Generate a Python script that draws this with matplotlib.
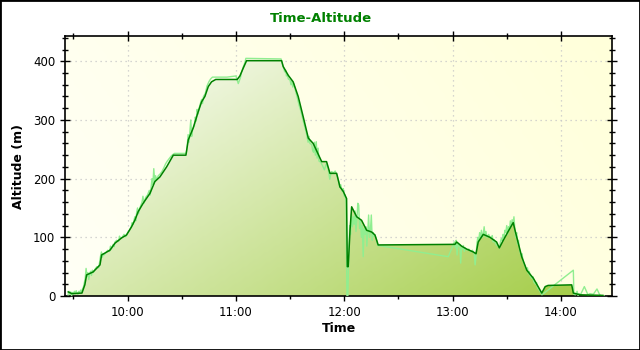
import numpy as np
import pandas as pd
import matplotlib
matplotlib.use('Agg')
from matplotlib import pyplot as plt
import matplotlib.dates as mdates
from matplotlib.colors import LinearSegmentedColormap
from matplotlib.patches import Rectangle

# smoothed track (minutes after midnight, altitude in m)
smooth_min = [567.1, 569.1, 574.7, 576.3, 577.3, 580.9, 584.7, 585.6, 590.2, 593.0,
              596.7, 599.4, 602.2, 604.0, 605.9, 608.6, 612.4, 615.1, 617.9, 621.6,
              625.3, 632.3, 633.6, 636.3, 639.1, 641.0, 642.8, 644.7, 646.5, 648.8,
              660.7, 662.2, 664.0, 665.9, 685.3, 686.2, 689.0, 691.7, 694.5, 697.3,
              700.1, 702.8, 707.5, 710.2, 712.1, 715.8, 717.6, 719.5, 721.3, 721.7,
              722.2, 723.2, 724.1, 726.9, 729.6, 732.4, 735.2, 737.0, 738.8, 781.3,
              782.3, 785.0, 787.8, 791.5, 793.0, 794.2, 797.0, 800.7, 804.4, 805.9,
              808.1, 810.8, 813.6, 814.6, 816.4, 818.3, 821.1, 824.8, 828.5, 829.4,
              831.3, 832.9, 846.0, 846.9, 850.6, 863.3]
smooth_alt = [7, 4, 5, 19, 36, 41, 53, 70, 78, 90,
              99, 104, 118, 129, 144, 158, 175, 195, 203, 220,
              240, 240, 266, 286, 314, 331, 340, 357, 365, 369,
              369, 375, 388, 401, 401, 391, 376, 365, 340, 305,
              269, 260, 229, 229, 209, 209, 186, 178, 166, 50,
              50, 112, 152, 135, 129, 112, 109, 104, 87, 88,
              92, 85, 80, 75, 72, 92, 105, 100, 92, 82,
              95, 110, 125, 112, 90, 67, 44, 30, 10, 5,
              16, 18, 19, 5, 2, 1]

# raw GPS altitude samples
raw_min = [567.0, 567.5, 568.0, 568.5, 569.0, 569.5, 570.0, 570.5, 571.0, 571.5,
           572.0, 572.5, 573.0, 573.5, 574.0, 574.5, 575.0, 575.5, 576.0, 576.5,
           577.0, 577.5, 578.0, 578.5, 579.0, 579.5, 580.0, 580.5, 581.0, 582.0,
           583.0, 584.0, 584.5, 585.0, 585.5, 586.0, 586.5, 587.0, 588.0, 589.0,
           590.0, 590.5, 591.0, 592.0, 592.5, 593.0, 594.0, 595.0, 595.5, 596.0,
           597.0, 598.0, 599.0, 600.0, 601.0, 602.0, 602.5, 603.0, 604.0, 604.5,
           605.0, 605.5, 606.0, 607.0, 608.0, 608.5, 609.0, 610.0, 611.0, 612.0,
           612.5, 613.0, 613.5, 614.0, 614.5, 615.0, 615.5, 616.0, 617.0, 618.0,
           619.0, 620.0, 621.0, 622.0, 623.0, 624.0, 625.0, 626.0, 632.5, 633.0,
           633.5, 634.0, 634.5, 635.0, 635.5, 636.0, 637.0, 637.5, 638.0, 638.5,
           639.0, 640.0, 641.0, 641.5, 642.0, 643.0, 644.0, 645.0, 646.0, 647.0,
           648.0, 655.0, 660.0, 661.3, 662.5, 663.0, 664.0, 665.0, 665.5, 685.0,
           685.5, 686.0, 686.5, 687.0, 687.5, 688.0, 688.5, 689.0, 690.0, 690.5,
           691.0, 691.5, 692.0, 693.0, 694.0, 695.0, 696.0, 697.0, 698.0, 699.0,
           699.5, 700.0, 700.5, 701.0, 702.0, 702.5, 703.0, 703.5, 704.0, 704.5,
           705.0, 705.5, 706.0, 707.0, 708.0, 709.0, 710.0, 711.0, 712.0, 712.5,
           713.0, 714.0, 715.0, 716.0, 717.0, 717.5, 718.0, 719.0, 719.5, 720.0,
           720.5, 721.0, 721.5, 722.0, 722.5, 723.0, 723.5, 724.0, 724.5, 725.0,
           725.5, 726.0, 726.5, 727.0, 727.5, 728.0, 728.5, 729.0, 729.5, 730.0,
           730.5, 731.0, 731.5, 732.0, 732.5, 733.0, 733.5, 734.0, 734.5, 735.0,
           735.5, 736.0, 736.5, 737.0, 738.0, 738.5, 739.0, 777.6, 780.4, 781.0,
           781.5, 782.0, 782.5, 783.0, 783.5, 784.0, 784.5, 785.0, 785.5, 786.0,
           786.5, 787.0, 788.0, 789.0, 790.0, 791.0, 792.0, 792.5, 793.0, 793.5,
           794.0, 794.5, 795.0, 795.5, 796.0, 796.5, 797.0, 797.5, 798.0, 798.5,
           799.0, 800.0, 801.0, 802.0, 802.5, 803.0, 804.0, 805.0, 806.0, 806.5,
           807.0, 807.5, 808.0, 808.5, 809.0, 809.5, 810.0, 810.5, 811.0, 811.5,
           812.0, 812.5, 813.0, 813.5, 814.0, 814.5, 815.0, 815.5, 816.0, 816.5,
           817.0, 818.0, 818.5, 819.0, 820.0, 821.0, 821.5, 822.0, 822.5, 823.0,
           824.0, 824.5, 825.0, 826.0, 826.5, 827.0, 828.0, 829.0, 829.5, 846.9,
           847.2, 848.0, 849.0, 849.5, 850.0, 851.0, 853.0, 855.0, 856.0, 858.0,
           860.0, 861.5, 862.0, 863.0, 864.0]
raw_alt = [2, 8, 3, 7, 1, 6, 3, 8, 4, 9,
           5, 3, 8, 6, 10, 7, 12, 15, 22, 30,
           47, 33, 40, 28, 38, 42, 35, 44, 40, 46,
           50, 48, 58, 68, 75, 66, 72, 70, 74, 78,
           76, 85, 80, 88, 84, 92, 95, 93, 102, 98,
           100, 105, 101, 108, 112, 118, 125, 122, 135, 128,
           142, 150, 140, 152, 160, 170, 158, 168, 172, 180,
           172, 185, 200, 190, 217, 195, 205, 198, 205, 208,
           212, 218, 225, 230, 234, 238, 241, 243, 243, 255,
           275, 262, 280, 300, 272, 285, 290, 305, 298, 318,
           310, 325, 335, 328, 340, 345, 358, 365, 370, 373,
           373, 373, 375, 362, 372, 380, 390, 398, 405, 404,
           398, 392, 388, 382, 385, 375, 378, 370, 368, 360,
           366, 356, 362, 350, 338, 325, 315, 302, 290, 278,
           270, 262, 272, 260, 258, 248, 245, 262, 240, 263,
           235, 252, 230, 228, 222, 215, 225, 218, 199, 207,
           212, 210, 213, 205, 195, 185, 190, 178, 183, 170,
           172, 160, 0, 0, 70, 120, 105, 140, 118, 135,
           122, 145, 110, 130, 158, 155, 115, 128, 100, 120,
           67, 115, 105, 118, 85, 108, 138, 100, 112, 138,
           95, 108, 102, 104, 95, 86, 86, 67, 87, 92,
           82, 95, 70, 90, 85, 88, 56, 84, 80, 86,
           76, 82, 78, 80, 75, 78, 72, 53, 68, 90,
           100, 95, 108, 98, 112, 100, 106, 118, 102, 110,
           100, 105, 98, 103, 92, 96, 88, 85, 82, 92,
           98, 94, 105, 100, 112, 108, 120, 105, 118, 112,
           128, 118, 130, 122, 135, 115, 100, 108, 88, 95,
           80, 68, 72, 60, 52, 45, 48, 38, 42, 34,
           30, 33, 24, 20, 23, 14, 10, 5, 2, 44,
           3, 2, 8, 1, 4, 3, 16, 2, 4, 3,
           12, 2, 1, 0, 0]

x_range = ('09:25:20', '14:28:35')
y_range = (0, 443)


def to_time(minutes):
    return pd.Timestamp('2000-01-01') + pd.to_timedelta(np.asarray(minutes, dtype=float), unit='min')


def plot_data():
    fig = plt.figure(figsize=(6.4, 3.5), dpi=100)
    ax = fig.add_axes([0.1016, 0.1543, 0.8554, 0.7427])

    t_s = to_time(smooth_min)
    t_r = to_time(raw_min)

    # pale yellow background gradient
    bg_cmap = LinearSegmentedColormap.from_list('bg', ['#fffff6', '#ffffda'])
    gx, gy = np.meshgrid(np.linspace(0, 1, 200), np.linspace(0, 1, 100))
    ax.imshow(0.75 * gx + 0.25 * gy, cmap=bg_cmap, extent=[0, 1, 0, 1], origin='lower',
              transform=ax.transAxes, aspect='auto', zorder=0, interpolation='bilinear')

    ax.grid(True, color='#c8c8c8', linestyle=(0, (1, 3)), linewidth=0.9, zorder=1)

    # fill with diagonal green gradient (light top-left, green bottom-right)
    poly = ax.fill_between(t_s, smooth_alt, 0, color='none', zorder=2)
    fill_cmap = LinearSegmentedColormap.from_list('fill', ['#ffffff', '#a2cc44'])
    val = 0.6 * gx + 0.4 * (1 - gy)
    x0 = mdates.date2num(t_s[0])
    x1 = mdates.date2num(t_s[-1])
    im = ax.imshow(val, cmap=fill_cmap, vmin=0, vmax=1, origin='lower',
                   extent=[x0, x1, 0, max(smooth_alt)], aspect='auto', zorder=2,
                   interpolation='bilinear')
    im.set_clip_path(poly.get_paths()[0], transform=ax.transData)

    ax.plot(t_r, raw_alt, color='#90ee90', linewidth=1.0, zorder=3)
    ax.plot(t_s, smooth_alt, color='#008000', linewidth=1.1, zorder=4)

    ax.set_xlim(pd.Timestamp('2000-01-01 ' + x_range[0]), pd.Timestamp('2000-01-01 ' + x_range[1]))
    ax.set_ylim(*y_range)

    ax.xaxis.set_major_locator(mdates.HourLocator())
    ax.xaxis.set_minor_locator(mdates.MinuteLocator(byminute=[30]))
    ax.xaxis.set_major_formatter(mdates.DateFormatter('%H:%M'))
    ax.set_yticks([0, 100, 200, 300, 400])
    ax.set_yticks(np.arange(0, 441, 20), minor=True)

    ax.tick_params(which='major', direction='inout', length=7, width=1, labelsize=8.5,
                   top=True, right=True, colors='black')
    ax.tick_params(which='minor', direction='inout', length=4, width=1, top=True, right=True)
    ax.tick_params(axis='x', pad=4)

    for sp in ax.spines.values():
        sp.set_linewidth(1.2)

    ax.set_xlabel('Time', fontsize=9, fontweight='bold', labelpad=2)
    ax.set_ylabel('Altitude (m)', fontsize=9, fontweight='bold', labelpad=6)
    fig.text(0.502, 0.948, 'Time-Altitude', ha='center', va='center', color='#008000',
             fontsize=9.5, fontweight='bold')

    fig.patches.append(Rectangle((0, 0), 1, 1, transform=fig.transFigure, fill=False,
                                 edgecolor='black', linewidth=2))
    fig.savefig('out.png', dpi=100)


def main():
    plot_data()


if __name__ == '__main__':
    main()
